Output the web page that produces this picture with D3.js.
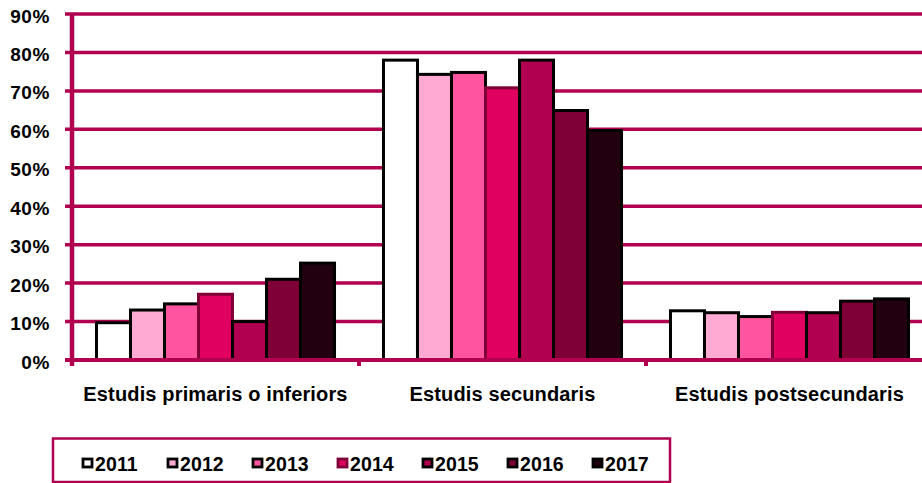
<!DOCTYPE html>
<html>
<head>
<meta charset="utf-8">
<script src="https://cdn.jsdelivr.net/npm/d3@7"></script>
<style>
  html, body { margin: 0; padding: 0; background: #fff; }
  svg { display: block; font-family: 'Liberation Sans', Arial, sans-serif; font-weight: bold; }
</style>
</head>
<body>
<div id="chart"></div>
<script>
const categories = ['Estudis primaris o inferiors', 'Estudis secundaris', 'Estudis postsecundaris']
const years = ['2011', '2012', '2013', '2014', '2015', '2016', '2017']
// share per year, one array per category (in %)
const primaris = [9.7, 13.0, 14.6, 17.1, 10.0, 21.0, 25.2]
const secundaris = [78.0, 74.3, 74.8, 70.8, 78.0, 64.9, 59.7]
const postsecundaris = [12.8, 12.3, 11.3, 12.4, 12.3, 15.3, 15.9]
const yTicks = [0, 10, 20, 30, 40, 50, 60, 70, 80, 90]

const fills = ['#ffffff', '#ffaad2', '#ff55a0', '#e0005f', '#b0004f', '#7f0036', '#220010']
const strokes = ['#000', '#000', '#000', '#7f0036', '#000', '#000', '#000']
const lineColor = '#b0004f'

const width = 922
const height = 483
const margin = {left: 72, top: 14, right: 933, bottom: 360}

const rows = categories.map((c, i) => ({
    name: c,
    values: [primaris, secundaris, postsecundaris][i]
}))

const svg = d3.select('#chart')
    .append('svg')
    .attr('width', width)
    .attr('height', height)

const x0 = d3.scaleBand()
    .domain(categories)
    .range([margin.left, margin.right])

const x1 = d3.scaleBand()
    .domain(years)
    .range([0, x0.bandwidth()])
    .paddingOuter(0.72)

const y = d3.scaleLinear()
    .domain([0, 90])
    .range([margin.bottom, margin.top])

// gridlines (with the small left tick)
svg.append('g')
    .selectAll('line')
    .data(yTicks)
    .enter()
    .append('line')
    .attr('x1', margin.left - 7)
    .attr('x2', margin.right)
    .attr('y1', d => y(d))
    .attr('y2', d => y(d))
    .attr('stroke', lineColor)
    .attr('stroke-width', 3.5)

// bars
const groups = svg.append('g')
    .selectAll('g')
    .data(rows)
    .enter()
    .append('g')
    .attr('transform', d => 'translate(' + x0(d.name) + ',0)')

groups.selectAll('rect')
    .data(d => d.values.map((v, i) => ({year: years[i], value: v, i})))
    .enter()
    .append('rect')
    .attr('x', d => x1(d.year))
    .attr('y', d => y(d.value))
    .attr('width', x1.bandwidth())
    .attr('height', d => y(0) - y(d.value))
    .attr('fill', d => fills[d.i])
    .attr('stroke', d => strokes[d.i])
    .attr('stroke-width', 3)

// axes
svg.append('line')
    .attr('x1', margin.left - 7)
    .attr('x2', margin.right)
    .attr('y1', y(0))
    .attr('y2', y(0))
    .attr('stroke', lineColor)
    .attr('stroke-width', 4)

svg.append('line')
    .attr('x1', margin.left)
    .attr('x2', margin.left)
    .attr('y1', y(90) - 1)
    .attr('y2', y(0) + 6)
    .attr('stroke', lineColor)
    .attr('stroke-width', 4.5)

svg.append('g')
    .selectAll('line')
    .data(categories.slice(1))
    .enter()
    .append('line')
    .attr('x1', d => x0(d))
    .attr('x2', d => x0(d))
    .attr('y1', y(0))
    .attr('y2', y(0) + 6)
    .attr('stroke', lineColor)
    .attr('stroke-width', 4)

// y labels
svg.append('g')
    .selectAll('text')
    .data(yTicks)
    .enter()
    .append('text')
    .attr('x', 50)
    .attr('y', d => y(d) + 8.5)
    .attr('text-anchor', 'end')
    .style('font-size', '19px')
    .style('letter-spacing', '0.6px')
    .text(d => d + '%')

// category labels
svg.append('g')
    .selectAll('text')
    .data(categories)
    .enter()
    .append('text')
    .attr('x', d => x0(d) + x0.bandwidth() / 2)
    .attr('y', 401)
    .attr('text-anchor', 'middle')
    .style('font-size', '20px')
    .style('letter-spacing', '0.15px')
    .text(d => d)

// legend
const legend = svg.append('g')

legend.append('rect')
    .attr('x', 53)
    .attr('y', 438.5)
    .attr('width', 617)
    .attr('height', 43.5)
    .attr('fill', 'none')
    .attr('stroke', lineColor)
    .attr('stroke-width', 2.5)

const lx = d3.scaleBand()
    .domain(years)
    .range([75, 670])

const items = legend.selectAll('g.item')
    .data(years)
    .enter()
    .append('g')
    .attr('class', 'item')
    .attr('transform', d => 'translate(' + lx(d) + ',0)')

items.append('rect')
    .attr('x', 8)
    .attr('y', 459)
    .attr('width', 9)
    .attr('height', 8)
    .attr('fill', (d, i) => fills[i])
    .attr('stroke', (d, i) => strokes[i])
    .attr('stroke-width', 2.8)

items.append('text')
    .attr('x', 20)
    .attr('y', 470.5)
    .style('font-size', '19.5px')
    .style('letter-spacing', '0.1px')
    .text(d => d)
</script>
</body>
</html>
